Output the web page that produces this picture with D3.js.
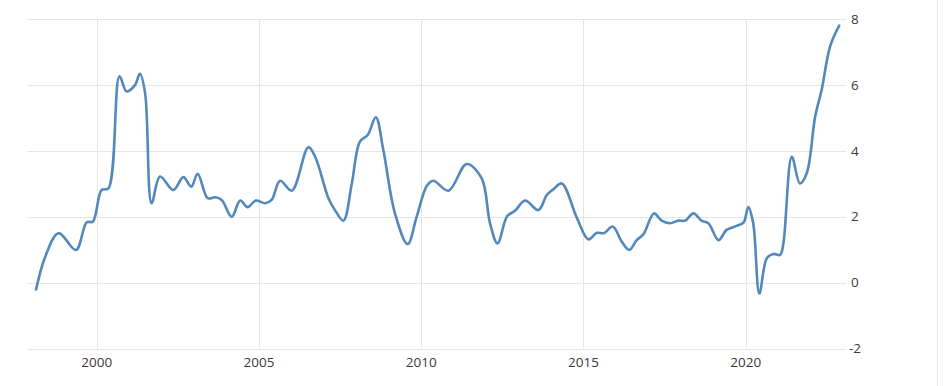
<!DOCTYPE html>
<html>
<head>
<meta charset="utf-8">
<script src="https://cdn.jsdelivr.net/npm/d3@7"></script>
<style>
  html, body { margin: 0; padding: 0; background: #fff; }
  svg { display: block; }
  text { font-family: "Open Sans", "Noto Sans", sans-serif; }
</style>
</head>
<body>
<svg id="chart" width="943" height="386"></svg>
<script>
// Decimal-year positions of the sampled points
const dates = [
  1998.13, 1998.41, 1998.82, 1999.36, 1999.69, 1999.88, 2000.15, 2000.36, 2000.70, 2000.92,
  2001.18, 2001.33, 2001.49, 2001.69, 2001.95, 2002.36, 2002.67, 2002.91, 2003.11, 2003.42,
  2003.65, 2003.85, 2004.16, 2004.42, 2004.65, 2004.90, 2005.19, 2005.39, 2005.65, 2006.01,
  2006.52, 2006.73, 2007.14, 2007.34, 2007.60, 2007.86, 2008.11, 2008.35, 2008.60, 2008.83,
  2009.19, 2009.58, 2009.86, 2010.17, 2010.37, 2010.84, 2011.40, 2011.86, 2012.12, 2012.35,
  2012.65, 2012.89, 2013.20, 2013.61, 2013.87, 2014.07, 2014.33, 2014.79, 2015.15, 2015.41,
  2015.63, 2015.90, 2016.18, 2016.41, 2016.64, 2016.85, 2017.17, 2017.41, 2017.67, 2017.92,
  2018.13, 2018.39, 2018.64, 2018.85, 2019.16, 2019.41, 2019.72, 2019.93, 2020.08, 2020.23,
  2020.42, 2020.65, 2020.85, 2021.06, 2021.16, 2021.42, 2021.67, 2021.88, 2022.14, 2022.34,
  2022.60, 2022.88
];
const values = [
  -0.21, 0.78, 1.50, 0.99, 1.83, 1.85, 2.81, 2.86, 6.26, 5.80,
  6.00, 6.34, 5.75, 2.41, 3.22, 2.81, 3.20, 2.91, 3.30, 2.56,
  2.59, 2.51, 2.00, 2.49, 2.29, 2.49, 2.41, 2.51, 3.09, 2.79,
  4.11, 3.82, 2.56, 2.20, 1.88, 3.01, 4.28, 4.48, 5.02, 4.03,
  2.10, 1.17, 2.00, 2.93, 3.09, 2.79, 3.60, 3.17, 1.80, 1.19,
  2.02, 2.18, 2.49, 2.20, 2.66, 2.83, 3.01, 1.98, 1.31, 1.51,
  1.50, 1.70, 1.24, 0.99, 1.29, 1.47, 2.10, 1.88, 1.80, 1.88,
  1.88, 2.10, 1.88, 1.80, 1.29, 1.60, 1.72, 1.82, 2.29, 1.80,
  -0.33, 0.74, 0.87, 0.84, 1.19, 3.82, 3.01, 3.32, 5.04, 5.85,
  7.17, 7.80
];
const xTicks = [2000, 2005, 2010, 2015, 2020];
const yTicks = [-2, 0, 2, 4, 6, 8];

const data = dates.map((d, i) => ({ x: d, y: values[i] }));

const svg = d3.select("#chart");
const x = d3.scaleLinear().domain([1997.85, 2023.09]).range([27, 846]);
const y = d3.scaleLinear().domain([-2, 8]).range([348.5, 19]);

// right frame line
svg.append("line")
  .attr("x1", 937.5).attr("x2", 937.5).attr("y1", 0).attr("y2", 386)
  .attr("stroke", "#ececec").attr("stroke-width", 1);

// horizontal grid
svg.append("g").selectAll("line").data(yTicks).join("line")
  .attr("x1", x.range()[0]).attr("x2", x.range()[1])
  .attr("y1", d => Math.round(y(d)) + 0.5).attr("y2", d => Math.round(y(d)) + 0.5)
  .attr("stroke", "#e6e6e6").attr("stroke-width", 1);

// vertical grid
svg.append("g").selectAll("line").data(xTicks).join("line")
  .attr("x1", d => Math.round(x(d)) + 0.5).attr("x2", d => Math.round(x(d)) + 0.5)
  .attr("y1", y(8)).attr("y2", y(-2))
  .attr("stroke", "#e6e6e6").attr("stroke-width", 1);

// y labels (right)
svg.append("g").selectAll("text").data(yTicks).join("text")
  .attr("x", d => d < 0 ? 849 : 851)
  .attr("y", d => y(d))
  .attr("dy", "0.35em")
  .attr("font-size", 13.5)
  .attr("fill", "#3a3a3a")
  .text(d => d);

// x labels
svg.append("g").selectAll("text").data(xTicks).join("text")
  .attr("x", d => x(d))
  .attr("y", 362.5)
  .attr("dy", "0.35em")
  .attr("text-anchor", "middle")
  .attr("font-size", 13.5)
  .attr("fill", "#3a3a3a")
  .text(d => d);

// line
const line = d3.line()
  .x(d => x(d.x))
  .y(d => y(d.y))
  .curve(d3.curveCatmullRom.alpha(0.5));

svg.append("path")
  .datum(data)
  .attr("d", line)
  .attr("fill", "none")
  .attr("stroke", "#5288bb")
  .attr("stroke-width", 2.6)
  .attr("stroke-linejoin", "round")
  .attr("stroke-linecap", "round");
</script>
</body>
</html>
